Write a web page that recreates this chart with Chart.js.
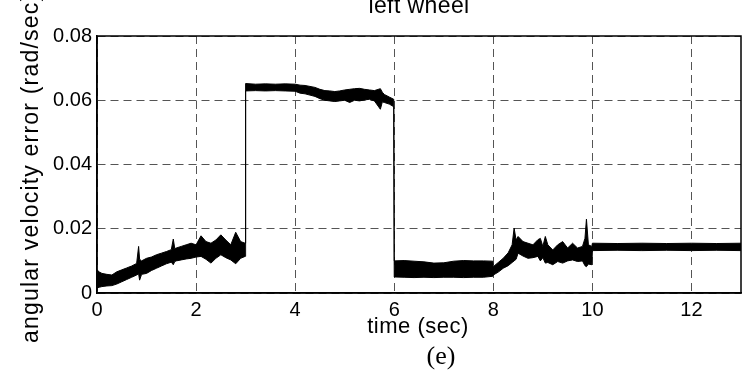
<!DOCTYPE html>
<html>
<head>
<meta charset="utf-8">
<script src="https://cdn.jsdelivr.net/npm/chart.js@4/dist/chart.umd.min.js"></script>
<style>
  body { margin: 0; background: #fff; }
  #wrap { width: 753px; height: 376px; }
</style>
</head>
<body>
<div id="wrap"><canvas id="chart" width="753" height="376"></canvas></div>
<script>
// time (sec) and the upper / lower edge of the noisy error band (rad/sec)
const time = [
  0, 0.05, 0.1, 0.2, 0.3, 0.4, 0.5, 0.6, 0.7, 0.8, 0.84, 0.86, 0.9, 1.0, 1.1, 1.2, 1.3, 1.4, 1.5, 1.54, 1.57, 1.6,
  1.7, 1.8, 1.9, 2.0, 2.1, 2.2, 2.3, 2.4, 2.5, 2.6, 2.7, 2.8, 2.9, 2.99,
  3.0, 3.2, 3.4, 3.6, 3.8, 4.0, 4.1, 4.2, 4.3, 4.4, 4.5, 4.6, 4.7, 4.8, 4.9, 5.0, 5.1, 5.2, 5.3, 5.4, 5.5, 5.6,
  5.72, 5.76, 5.8, 5.9, 5.99,
  6.0, 6.2, 6.4, 6.6, 6.8, 7.0, 7.2, 7.4, 7.6, 7.8, 7.99,
  8.0, 8.1, 8.2, 8.3, 8.38, 8.42, 8.46, 8.5, 8.6, 8.7, 8.8, 8.9, 8.95, 9.0, 9.05, 9.1, 9.2, 9.3, 9.4, 9.5, 9.6,
  9.7, 9.8, 9.85, 9.88, 9.92, 9.99,
  10.0, 10.5, 11.0, 11.5, 12.0, 12.5, 13.0
];
const upper = [
  0.0072, 0.0065, 0.0061, 0.0058, 0.0056, 0.0066, 0.0072, 0.0078, 0.0084, 0.0092, 0.0145, 0.0105, 0.0100, 0.0108,
  0.0112, 0.0119, 0.0124, 0.0129, 0.0135, 0.0168, 0.0138, 0.0140, 0.0145, 0.0150, 0.0155, 0.0150, 0.0178, 0.0160,
  0.0155, 0.0165, 0.0181, 0.0165, 0.0150, 0.0189, 0.0160, 0.0155,
  0.0652, 0.0650, 0.0651, 0.0650, 0.0651, 0.0650, 0.0647, 0.0646, 0.0643, 0.0640, 0.0634, 0.0630, 0.0629, 0.0627,
  0.0629, 0.0632, 0.0634, 0.0636, 0.0637, 0.0634, 0.0632, 0.0630, 0.0636, 0.0625, 0.0618, 0.0610, 0.0603,
  0.0100, 0.0101, 0.0099, 0.0097, 0.0093, 0.0094, 0.0099, 0.0101, 0.0100, 0.0100, 0.0099,
  0.0082, 0.0095, 0.0108, 0.0125, 0.0150, 0.0202, 0.0165, 0.0176, 0.0160, 0.0155, 0.0150, 0.0166, 0.0170, 0.0145,
  0.0176, 0.0150, 0.0134, 0.0150, 0.0160, 0.0140, 0.0155, 0.0140, 0.0145, 0.0170, 0.0230, 0.0150, 0.0145,
  0.0155, 0.0154, 0.0155, 0.0154, 0.0155, 0.0154, 0.0155
];
const lower = [
  0.0016, 0.0018, 0.0020, 0.0022, 0.0023, 0.0028, 0.0035, 0.0042, 0.0049, 0.0056, 0.0060, 0.0040, 0.0058, 0.0061,
  0.0070, 0.0077, 0.0084, 0.0091, 0.0096, 0.0088, 0.0098, 0.0100, 0.0103, 0.0106, 0.0108, 0.0112, 0.0114, 0.0105,
  0.0093, 0.0108, 0.0119, 0.0110, 0.0103, 0.0091, 0.0108, 0.0114,
  0.0629, 0.0630, 0.0629, 0.0630, 0.0629, 0.0628, 0.0622, 0.0620, 0.0616, 0.0612, 0.0605, 0.0600, 0.0598, 0.0596,
  0.0598, 0.0600, 0.0593, 0.0600, 0.0598, 0.0601, 0.0603, 0.0598, 0.0572, 0.0595, 0.0593, 0.0588, 0.0580,
  0.0050, 0.0049, 0.0048, 0.0049, 0.0048, 0.0049, 0.0049, 0.0048, 0.0049, 0.0049, 0.0052,
  0.0056, 0.0065, 0.0077, 0.0085, 0.0095, 0.0100, 0.0105, 0.0124, 0.0115, 0.0108, 0.0110, 0.0114, 0.0100, 0.0110,
  0.0093, 0.0095, 0.0088, 0.0098, 0.0093, 0.0100, 0.0103, 0.0098, 0.0100, 0.0085, 0.0082, 0.0090, 0.0088,
  0.0132, 0.0133, 0.0132, 0.0133, 0.0132, 0.0133, 0.0132
];
const xTicks = [0, 2, 4, 6, 8, 10, 12];
const yTicks = [0, 0.02, 0.04, 0.06, 0.08];
const titleText = 'left wheel';
const xLabel = 'time (sec)';
const yLabel = 'angular velocity error (rad/sec)';
const caption = '(e)';

const lowerPts = time.map((t, i) => ({ x: t, y: lower[i] }));
const upperPts = time.map((t, i) => ({ x: t, y: upper[i] }));

// box round the plot plus the loose texts (title, axis names, caption)
const textsAndBox = {
  id: 'textsAndBox',
  afterDraw(chart) {
    const { ctx, chartArea: a } = chart;
    ctx.save();
    ctx.strokeStyle = '#000';
    ctx.lineWidth = 1.5;
    ctx.strokeRect(a.left, a.top, a.right - a.left, a.bottom - a.top);

    ctx.fillStyle = '#000';
    ctx.textBaseline = 'alphabetic';
    ctx.textAlign = 'center';
    ctx.font = '23px "Liberation Sans", Arial, sans-serif';
    ctx.letterSpacing = '0.4px';
    ctx.fillText(titleText, 419, 13);

    ctx.font = '22px "Liberation Sans", Arial, sans-serif';
    ctx.letterSpacing = '0.5px';
    ctx.fillText(xLabel, 418, 333);

    ctx.letterSpacing = '0px';
    ctx.font = '26px "Liberation Serif", "Times New Roman", serif';
    ctx.fillText(caption, 441, 364);

    ctx.translate(38, 343);
    ctx.rotate(-Math.PI / 2);
    ctx.textAlign = 'left';
    ctx.font = '23px "Liberation Sans", Arial, sans-serif';
    ctx.letterSpacing = '1.2px';
    ctx.fillText(yLabel, 0, 0);
    ctx.restore();
  }
};

const tickFont = { family: '"Liberation Sans", Arial, sans-serif', size: 20 };

new Chart(document.getElementById('chart'), {
  type: 'line',
  data: {
    datasets: [
      {
        data: lowerPts,
        borderColor: '#000',
        borderWidth: 1,
        pointRadius: 0,
        fill: false,
      },
      {
        data: upperPts,
        borderColor: '#000',
        borderWidth: 1,
        pointRadius: 0,
        backgroundColor: '#000',
        fill: '-1',
      },
    ],
  },
  options: {
    responsive: false,
    animation: false,
    devicePixelRatio: 1,
    layout: { padding: { top: 36, right: 12, left: 0, bottom: 0 } },
    plugins: {
      legend: { display: false },
      tooltip: { enabled: false },
    },
    scales: {
      x: {
        type: 'linear',
        min: 0,
        max: 13,
        afterBuildTicks: (scale) => { scale.ticks = xTicks.map((v) => ({ value: v })); },
        afterFit: (scale) => { scale.height = 83; },
        ticks: { color: '#000', font: tickFont, padding: 5, maxRotation: 0, callback: (v) => String(v) },
        grid: { color: '#555', lineWidth: 1, drawTicks: false },
        border: { color: '#000', width: 1.5, dash: [8, 5] },
      },
      y: {
        min: 0,
        max: 0.08,
        afterBuildTicks: (scale) => { scale.ticks = yTicks.map((v) => ({ value: v })); },
        afterFit: (scale) => { scale.width = 97; },
        ticks: {
          color: '#000',
          font: tickFont,
          padding: 5,
          callback: (v) => (v === 0 ? '0' : v.toFixed(2)),
        },
        grid: { color: '#555', lineWidth: 1, drawTicks: false },
        border: { color: '#000', width: 1.5, dash: [8, 5] },
      },
    },
  },
  plugins: [textsAndBox],
});
</script>
</body>
</html>
